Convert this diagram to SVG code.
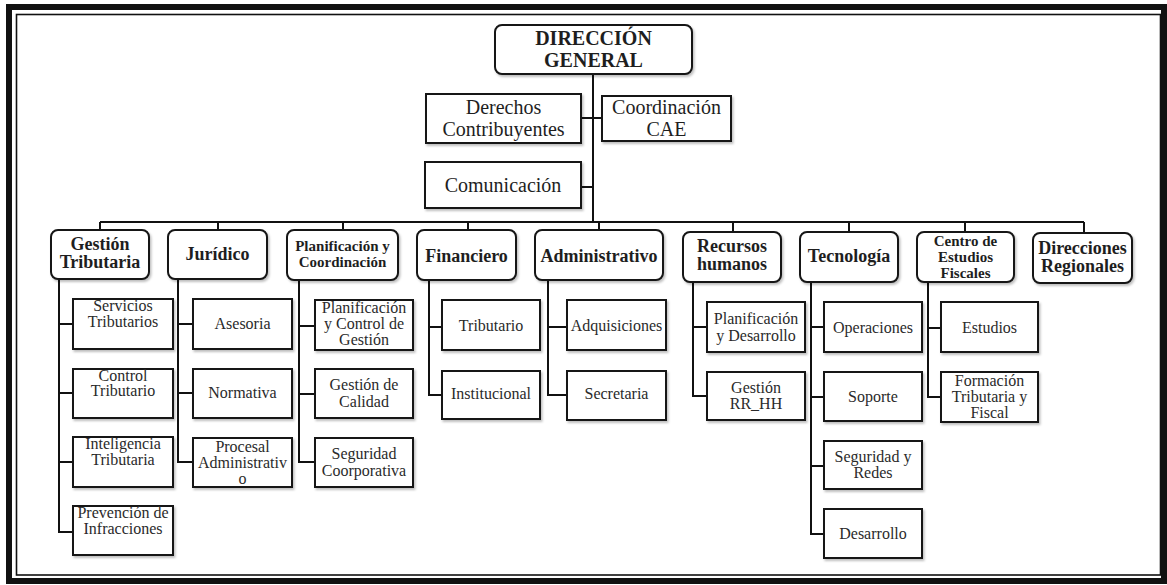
<svg xmlns="http://www.w3.org/2000/svg" width="1167" height="585" viewBox="0 0 1167 585">
<style>
  .frame-out{fill:none;stroke:#111;stroke-width:6}
  .frame-in{fill:none;stroke:#111;stroke-width:1.6}
  .dept{fill:#fff;stroke:#151515;stroke-width:2;filter:url(#sh)}
  .box{fill:#fff;stroke:#151515;stroke-width:2;filter:url(#sh)}
  .wire{fill:none;stroke:#111;stroke-width:2}
  text{font-family:"Liberation Serif","Times New Roman",serif;fill:#1e1e1e;text-anchor:middle}
  .top{font-size:20px;font-weight:bold}
  .mid{font-size:20px}
  .d{font-size:18px;font-weight:bold}
  .ds{font-size:15px;font-weight:bold}
  .c{font-size:16px;fill:#2a2a2a}
</style>
<defs>
  <filter id="sh" x="-10%" y="-10%" width="125%" height="130%">
    <feDropShadow dx="1.5" dy="2" stdDeviation="1.2" flood-color="#000" flood-opacity="0.25"/>
  </filter>
</defs>
<rect width="1167" height="585" fill="#fff"/>
<rect class="frame-out" x="9" y="7" width="1155" height="574"/>
<rect class="frame-in" x="16.5" y="14.5" width="1144" height="560.5"/>

<g id="connectors">
  <path class="wire" d="M593 74 V222"/>
  <path class="wire" d="M581 118 H602"/>
  <path class="wire" d="M581 187 H593"/>
  <path class="wire" d="M100 222 H1084"/>
  <path class="wire" d="M100 222 V230 M218 222 V230 M343 222 V230 M468 222 V230 M599 222 V230 M733 222 V232 M849 222 V232 M965 222 V232 M1084 222 V233"/>
  <path class="wire" d="M59 279 V532 H73 M59 324 H73 M59 393 H73 M59 462 H73"/>
  <path class="wire" d="M178 279 V462 H193 M178 324 H193 M178 393 H193"/>
  <path class="wire" d="M299 280 V462 H315 M299 326 H315 M299 394 H315"/>
  <path class="wire" d="M429 280 V395 H442 M429 327 H442"/>
  <path class="wire" d="M548 280 V395 H567 M548 327 H567"/>
  <path class="wire" d="M693 282 V396 H707 M693 327 H707"/>
  <path class="wire" d="M811 282 V534 H824 M811 327 H824 M811 397 H824 M811 466 H824"/>
  <path class="wire" d="M928 282 V397 H941 M928 328 H941"/>
</g>

<g id="direccion-general">
  <rect class="dept" x="495" y="25" width="197" height="49" rx="7"/>
  <text class="top" x="593.5" y="45">DIRECCIÓN</text>
  <text class="top" x="593.5" y="67">GENERAL</text>
</g>
<g id="derechos-contribuyentes">
  <rect class="box" x="426" y="94" width="155" height="49"/>
  <text class="mid" x="503.5" y="114">Derechos</text>
  <text class="mid" x="503.5" y="136">Contribuyentes</text>
</g>
<g id="coordinacion-cae">
  <rect class="box" x="602" y="96" width="129" height="45"/>
  <text class="mid" x="666.5" y="114">Coordinación</text>
  <text class="mid" x="666.5" y="136">CAE</text>
</g>
<g id="comunicacion">
  <rect class="box" x="425" y="162" width="156" height="46"/>
  <text class="mid" x="503" y="192">Comunicación</text>
</g>

<g id="gestion-tributaria">
  <rect class="dept" x="51" y="230" width="98" height="49" rx="7"/>
  <text class="d" x="100" y="250">Gestión</text>
  <text class="d" x="100" y="268">Tributaria</text>
</g>
<g id="juridico">
  <rect class="dept" x="168" y="230" width="99" height="49" rx="7"/>
  <text class="d" x="217.5" y="260">Jurídico</text>
</g>
<g id="planificacion-coordinacion">
  <rect class="dept" x="287" y="230" width="111" height="50" rx="7"/>
  <text class="ds" x="342.5" y="251">Planificación y</text>
  <text class="ds" x="342.5" y="267">Coordinación</text>
</g>
<g id="financiero">
  <rect class="dept" x="417" y="230" width="99" height="50" rx="7"/>
  <text class="d" x="466.5" y="262">Financiero</text>
</g>
<g id="administrativo">
  <rect class="dept" x="535" y="230" width="128" height="50" rx="7"/>
  <text class="d" x="599" y="262">Administrativo</text>
</g>
<g id="recursos-humanos">
  <rect class="dept" x="683" y="232" width="98" height="50" rx="7"/>
  <text class="d" x="732" y="252">Recursos</text>
  <text class="d" x="732" y="270">humanos</text>
</g>
<g id="tecnologia">
  <rect class="dept" x="800" y="232" width="98" height="50" rx="7"/>
  <text class="d" x="849" y="262">Tecnología</text>
</g>
<g id="centro-estudios-fiscales">
  <rect class="dept" x="917" y="232" width="97" height="50" rx="7"/>
  <text class="ds" x="965.5" y="246">Centro de</text>
  <text class="ds" x="965.5" y="262">Estudios</text>
  <text class="ds" x="965.5" y="278">Fiscales</text>
</g>
<g id="direcciones-regionales">
  <rect class="dept" x="1033" y="233" width="99" height="50" rx="7"/>
  <text class="d" x="1082.5" y="254">Direcciones</text>
  <text class="d" x="1082.5" y="272">Regionales</text>
</g>

<g id="servicios-tributarios">
  <rect class="box" x="73" y="299" width="100" height="50"/>
  <text class="c" x="123" y="311">Servicios</text>
  <text class="c" x="123" y="327">Tributarios</text>
</g>
<g id="control-tributario">
  <rect class="box" x="73" y="369" width="100" height="49"/>
  <text class="c" x="123" y="381">Control</text>
  <text class="c" x="123" y="396">Tributario</text>
</g>
<g id="inteligencia-tributaria">
  <rect class="box" x="73" y="437" width="100" height="50"/>
  <text class="c" x="123" y="449">Inteligencia</text>
  <text class="c" x="123" y="465">Tributaria</text>
</g>
<g id="prevencion-infracciones">
  <rect class="box" x="73" y="506" width="100" height="49"/>
  <text class="c" x="123" y="518">Prevención de</text>
  <text class="c" x="123" y="534">Infracciones</text>
</g>

<g id="asesoria">
  <rect class="box" x="193" y="299" width="99" height="50"/>
  <text class="c" x="242.5" y="329">Asesoria</text>
</g>
<g id="normativa">
  <rect class="box" x="193" y="369" width="99" height="49"/>
  <text class="c" x="242.5" y="398">Normativa</text>
</g>
<g id="procesal-administrativo">
  <rect class="box" x="193" y="438" width="99" height="49"/>
  <text class="c" x="242.5" y="452">Procesal</text>
  <text class="c" x="242.5" y="468">Administrativ</text>
  <text class="c" x="242.5" y="484">o</text>
</g>

<g id="planificacion-control-gestion">
  <rect class="box" x="315" y="300" width="98" height="50"/>
  <text class="c" x="364" y="313">Planificación</text>
  <text class="c" x="364" y="329">y Control de</text>
  <text class="c" x="364" y="345">Gestión</text>
</g>
<g id="gestion-calidad">
  <rect class="box" x="315" y="369" width="98" height="49"/>
  <text class="c" x="364" y="390">Gestión de</text>
  <text class="c" x="364" y="407">Calidad</text>
</g>
<g id="seguridad-coorporativa">
  <rect class="box" x="315" y="438" width="98" height="49"/>
  <text class="c" x="364" y="459">Seguridad</text>
  <text class="c" x="364" y="476">Coorporativa</text>
</g>

<g id="tributario">
  <rect class="box" x="442" y="300" width="98" height="50"/>
  <text class="c" x="491" y="331">Tributario</text>
</g>
<g id="institucional">
  <rect class="box" x="442" y="371" width="98" height="48"/>
  <text class="c" x="491" y="399">Institucional</text>
</g>

<g id="adquisiciones">
  <rect class="box" x="567" y="300" width="99" height="50"/>
  <text class="c" x="616.5" y="331">Adquisiciones</text>
</g>
<g id="secretaria">
  <rect class="box" x="567" y="371" width="99" height="49"/>
  <text class="c" x="616.5" y="399">Secretaria</text>
</g>

<g id="planificacion-desarrollo">
  <rect class="box" x="707" y="302" width="98" height="50"/>
  <text class="c" x="756" y="324">Planificación</text>
  <text class="c" x="756" y="341">y Desarrollo</text>
</g>
<g id="gestion-rrhh">
  <rect class="box" x="707" y="372" width="98" height="48"/>
  <text class="c" x="756" y="393">Gestión</text>
  <text class="c" x="756" y="409">RR_HH</text>
</g>

<g id="operaciones">
  <rect class="box" x="824" y="302" width="98" height="50"/>
  <text class="c" x="873" y="333">Operaciones</text>
</g>
<g id="soporte">
  <rect class="box" x="824" y="372" width="98" height="49"/>
  <text class="c" x="873" y="402">Soporte</text>
</g>
<g id="seguridad-redes">
  <rect class="box" x="824" y="441" width="98" height="48"/>
  <text class="c" x="873" y="462">Seguridad y</text>
  <text class="c" x="873" y="478">Redes</text>
</g>
<g id="desarrollo">
  <rect class="box" x="824" y="509" width="98" height="49"/>
  <text class="c" x="873" y="539">Desarrollo</text>
</g>

<g id="estudios">
  <rect class="box" x="941" y="302" width="97" height="50"/>
  <text class="c" x="989.5" y="333">Estudios</text>
</g>
<g id="formacion-tributaria-fiscal">
  <rect class="box" x="941" y="372" width="97" height="50"/>
  <text class="c" x="989.5" y="386">Formación</text>
  <text class="c" x="989.5" y="402">Tributaria y</text>
  <text class="c" x="989.5" y="418">Fiscal</text>
</g>
</svg>
